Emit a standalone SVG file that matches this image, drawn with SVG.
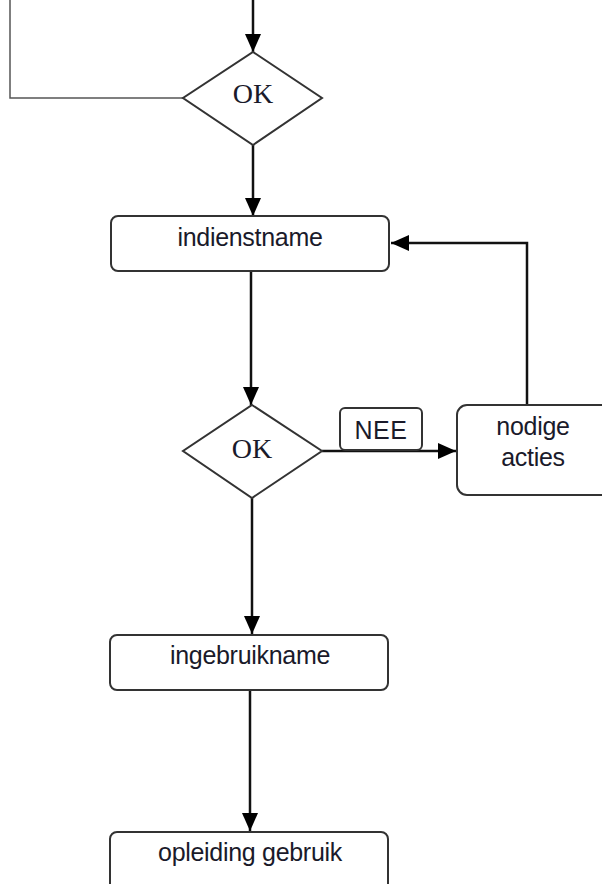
<svg xmlns="http://www.w3.org/2000/svg" width="602" height="884" viewBox="0 0 602 884">
<defs>
<marker id="arr" markerUnits="userSpaceOnUse" markerWidth="18" markerHeight="16" viewBox="0 0 18 16" refX="18" refY="8" orient="auto">
<path d="M0,0 L18,8 L0,16 Z" fill="#000"/>
</marker>
<style>
.box{fill:#fff;stroke:#333;stroke-width:2}
.dia{fill:#fff;stroke:#333;stroke-width:2}
.con{fill:none;stroke:#111;stroke-width:2.5}
.thin{fill:none;stroke:#555;stroke-width:1.5}
.sans{font-family:"Liberation Sans",Arial,sans-serif;font-size:25px;fill:#1a1a2a;text-anchor:middle;letter-spacing:-0.3px}
.serif{font-family:"Liberation Serif","Times New Roman",serif;font-size:28px;fill:#1a1a2a;text-anchor:middle}
</style>
</defs>
<rect width="602" height="884" fill="#fff"/>
<g id="connectors">
<line class="con" x1="253" y1="0" x2="253" y2="52" marker-end="url(#arr)"/>
<polyline class="thin" points="10,0 10,98 183,98"/>
<line class="con" x1="253" y1="145" x2="253" y2="216" marker-end="url(#arr)"/>
<line class="con" x1="251" y1="271" x2="251" y2="405" marker-end="url(#arr)"/>
<line class="con" x1="252" y1="498" x2="252" y2="634" marker-end="url(#arr)"/>
<line class="con" x1="322" y1="451" x2="456" y2="451" marker-end="url(#arr)"/>
<polyline class="con" points="527,405 527,243 391,243" marker-end="url(#arr)"/>
<line class="con" x1="250" y1="690" x2="250" y2="831" marker-end="url(#arr)"/>
</g>
<g id="ok1">
<polygon class="dia" points="253,52 322,98 253,145 183,98"/>
<text class="serif" x="253" y="103">OK</text>
</g>
<g id="indienstname">
<rect class="box" x="111" y="216" width="278" height="55" rx="7"/>
<text class="sans" x="250" y="246">indienstname</text>
</g>
<g id="ok2">
<polygon class="dia" points="252,405 322,451 252,498 183,451"/>
<text class="serif" x="252" y="458">OK</text>
</g>
<g id="nee">
<rect class="box" x="340" y="408" width="82" height="42" rx="5"/>
<text class="sans" x="381" y="439" style="letter-spacing:0.5px">NEE</text>
</g>
<g id="nodige">
<rect class="box" x="457" y="405" width="160" height="90" rx="10"/>
<text class="sans" x="533" y="435">nodige</text>
<text class="sans" x="533" y="466">acties</text>
</g>
<g id="ingebruikname">
<rect class="box" x="110" y="635" width="278" height="55" rx="7"/>
<text class="sans" x="250" y="664">ingebruikname</text>
</g>
<g id="opleiding">
<rect class="box" x="110" y="832" width="278" height="70" rx="7"/>
<text class="sans" x="250" y="861">opleiding gebruik</text>
</g>
</svg>
